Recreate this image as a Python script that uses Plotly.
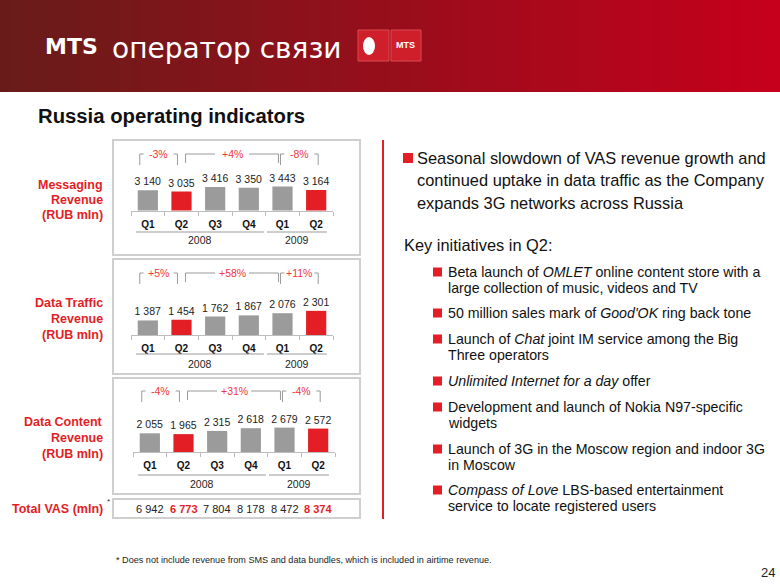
import plotly.graph_objects as go

W, H = 780, 586

# ---------------- data ----------------
quarters = ["Q1", "Q2", "Q3", "Q4", "Q1", "Q2"]
years = ["2008", "2009"]
messaging = [3140, 3035, 3416, 3350, 3443, 3164]
data_traffic = [1387, 1454, 1762, 1867, 2076, 2301]
data_content = [2055, 1965, 2315, 2618, 2679, 2572]
total_vas = [6942, 6773, 7804, 8178, 8472, 8374]
msg_changes = ["-3%", "+4%", "-8%"]
traffic_changes = ["+5%", "+58%", "+11%"]
content_changes = ["-4%", "+31%", "-4%"]
panel_titles = [["Messaging", "Revenue", "(RUB mln)"],
                ["Data Traffic", "Revenue", "(RUB mln)"],
                ["Data Content", "Revenue", "(RUB mln)"]]
highlight_quarter = "Q2"

main_bullet = ["Seasonal slowdown of VAS revenue growth and",
               "continued uptake in data traffic as the Company",
               "expands 3G networks across Russia"]
key_title = "Key initiatives in Q2:"
initiatives = [
    ["Beta launch of <i>OMLET</i> online content store with a",
     "large collection of music, videos and TV"],
    ["50 million sales mark of <i>Good'OK</i> ring back tone"],
    ["Launch of <i>Chat</i> joint IM service among the Big",
     "Three operators"],
    ["<i>Unlimited Internet for a day</i> offer"],
    ["Development and launch of Nokia N97-specific",
     "widgets"],
    ["Launch of 3G in the Moscow region and indoor 3G",
     "in Moscow"],
    ["<i>Compass of Love</i> LBS-based entertainment",
     "service to locate registered users"],
]
footnote = "* Does not include revenue from SMS and data bundles, which is included in airtime revenue."
page_number = "24"

# ---------------- helpers ----------------
def X(px):
    return px / W

def Y(py):
    return 1 - py / H

def fmt(v):
    return f"{v:,}".replace(",", " ")

RED = "#e31e25"
PCT_RED = "#f0363c"
GRAY_BAR = "#9b9b9b"
LINE_GRAY = "#9a9a9a"
BOX_GRAY = "#cfcfcf"
FONT = "Liberation Sans, Arial, sans-serif"
WIDE = "DejaVu Sans, Verdana, sans-serif"

fig = go.Figure()
shapes = []
ann = []

# ---------------- header ----------------
c0 = (104, 28, 26)
c1 = (198, 0, 28)
n = 78
for i in range(n):
    t = i / (n - 1)
    col = tuple(int(round(c0[j] + (c1[j] - c0[j]) * t)) for j in range(3))
    shapes.append(dict(type="rect", xref="paper", yref="paper",
                       x0=X(i * W / n), x1=X((i + 1) * W / n + 1), y0=Y(92), y1=Y(0),
                       line=dict(width=0), fillcolor=f"rgb{col}", layer="below"))
ann.append(dict(x=X(43), y=Y(46), xref="paper", yref="paper", xanchor="left", yanchor="middle",
                text="<b>MTS</b>", showarrow=False,
                font=dict(family=WIDE, size=22, color="white")))
ann.append(dict(x=X(110), y=Y(48), xref="paper", yref="paper", xanchor="left", yanchor="middle",
                text="оператор связи", showarrow=False,
                font=dict(family=WIDE, size=28, color="white")))
# logo
shapes.append(dict(type="rect", xref="paper", yref="paper", x0=X(358), x1=X(389), y0=Y(61), y1=Y(30),
                   fillcolor="#cf1f2a", line=dict(color="#d84a52", width=1)))
shapes.append(dict(type="rect", xref="paper", yref="paper", x0=X(391), x1=X(421), y0=Y(61), y1=Y(30),
                   fillcolor="#cf1f2a", line=dict(color="#d84a52", width=1)))
shapes.append(dict(type="circle", xref="paper", yref="paper", x0=X(363), x1=X(375), y0=Y(55), y1=Y(37),
                   fillcolor="white", line=dict(width=0)))
ann.append(dict(x=X(405), y=Y(45), xref="paper", yref="paper", xanchor="center", yanchor="middle",
                text="<b>MTS</b>", showarrow=False, font=dict(family=FONT, size=9, color="white")))

# title
ann.append(dict(x=X(36), y=Y(116), xref="paper", yref="paper", xanchor="left", yanchor="middle",
                text="<b>Russia operating indicators</b>", showarrow=False,
                font=dict(family=FONT, size=20.3, color="#111111")))

# ---------------- bar panels ----------------
panels = [
    dict(values=messaging, changes=msg_changes, titles=panel_titles[0],
         box=(113, 140, 360, 255), ax=(131, 333), base=210.5, vmin=1490, k=0.01225,
         br_y=154, yl_y=232, yr_y=239.5, t_y=[185, 200, 215]),
    dict(values=data_traffic, changes=traffic_changes, titles=panel_titles[1],
         box=(113, 259, 360, 374), ax=(131, 333), base=335, vmin=0, k=0.0105,
         br_y=273, yl_y=354, yr_y=364, t_y=[303, 319, 335]),
    dict(values=data_content, changes=content_changes, titles=panel_titles[2],
         box=(113, 378, 360, 494), ax=(133, 335), base=452, vmin=0, k=0.0091,
         br_y=391, yl_y=475, yr_y=484, t_y=[422, 438, 454]),
]

xs = list(range(len(quarters)))
colors = [RED if q == highlight_quarter and i in (1, 5) else GRAY_BAR for i, q in enumerate(quarters)]

for p_i, p in enumerate(panels):
    sfx = "" if p_i == 0 else str(p_i + 1)
    xa, ya = "x" + sfx, "y" + sfx
    fig.add_trace(go.Bar(x=xs, y=p["values"], xaxis=xa, yaxis=ya, width=0.6,
                         marker=dict(color=colors, line=dict(width=0)),
                         text=[fmt(v) for v in p["values"]], textposition="outside",
                         constraintext="none",
                         textfont=dict(family=FONT, size=10.5, color="#222222"),
                         cliponaxis=False, showlegend=False, hoverinfo="skip"))
    top_px = p["base"] - 60
    dom_y = [Y(p["base"]), Y(top_px)]
    yr = [p["vmin"], p["vmin"] + 60 / p["k"]]
    fig.layout["xaxis" + sfx] = dict(domain=[X(p["ax"][0]), X(p["ax"][1])], anchor=ya,
                                    range=[-0.5, 5.5], tickvals=xs,
                                    ticktext=[f"<b>{q}</b>" for q in quarters],
                                    ticks="", showline=True, linecolor="#bdbdbd", linewidth=1,
                                    showgrid=False, zeroline=False, fixedrange=True,
                                    ticklabelstandoff=4,
                                    tickfont=dict(family=FONT, size=10, color="#111111"),
                                    minor=dict(tick0=-0.5, dtick=1, ticks="outside", ticklen=4,
                                               tickcolor="#bdbdbd", tickwidth=1, showgrid=False))
    fig.layout["yaxis" + sfx] = dict(domain=dom_y, anchor=xa, range=yr, visible=False,
                                    showgrid=False, zeroline=False, fixedrange=True)

    # panel box
    bx0, by0, bx1, by1 = p["box"]
    shapes.append(dict(type="rect", xref="paper", yref="paper", x0=X(bx0), x1=X(bx1),
                       y0=Y(by1), y1=Y(by0), line=dict(color=BOX_GRAY, width=2)))
    unit = (p["ax"][1] - p["ax"][0]) / 6.0
    # year lines and labels
    for (a, b), yr_lbl in zip([(-0.35, 3.45), (3.54, 5.32)], years):
        shapes.append(dict(type="line", xref=xa, yref="paper", x0=a, x1=b,
                           y0=Y(p["yl_y"]), y1=Y(p["yl_y"]), line=dict(color=LINE_GRAY, width=1)))
        ann.append(dict(x=(a + b) / 2, y=Y(p["yr_y"]), xref=xa, yref="paper",
                        xanchor="center", yanchor="middle", text=yr_lbl, showarrow=False,
                        font=dict(family=FONT, size=10.5, color="#222222")))
    # brackets
    spans = [(-0.24, 0.88), (1.12, 3.88), (3.94, 5.06)]
    gaps = [15, 17, 15]
    vlen = [11, 9, 11]
    ty = p["br_y"]
    for (a, b), g, vl, lbl in zip(spans, gaps, vlen, p["changes"]):
        mid = (a + b) / 2
        gu = g / unit
        line = dict(color=LINE_GRAY, width=1)
        shapes.append(dict(type="line", xref=xa, yref="paper", x0=a, x1=a, y0=Y(ty), y1=Y(ty + vl), line=line))
        shapes.append(dict(type="line", xref=xa, yref="paper", x0=b, x1=b, y0=Y(ty), y1=Y(ty + vl), line=line))
        shapes.append(dict(type="line", xref=xa, yref="paper", x0=a, x1=mid - gu, y0=Y(ty), y1=Y(ty), line=line))
        shapes.append(dict(type="line", xref=xa, yref="paper", x0=mid + gu, x1=b, y0=Y(ty), y1=Y(ty), line=line))
        ann.append(dict(x=mid, y=Y(ty), xref=xa, yref="paper", xanchor="center", yanchor="middle",
                        text=lbl, showarrow=False, font=dict(family=FONT, size=10.5, color=PCT_RED)))
    # panel titles
    for line_txt, yy in zip(p["titles"], p["t_y"]):
        ann.append(dict(x=X(105), y=Y(yy), xref="paper", yref="paper", xanchor="right", yanchor="middle",
                        text=f"<b>{line_txt}</b>", showarrow=False,
                        font=dict(family=FONT, size=12.5, color=RED)))

# ---------------- total VAS row ----------------
shapes.append(dict(type="rect", xref="paper", yref="paper", x0=X(113), x1=X(360), y0=Y(518), y1=Y(499),
                   line=dict(color=BOX_GRAY, width=2)))
ann.append(dict(x=X(105), y=Y(509), xref="paper", yref="paper", xanchor="right", yanchor="middle",
                text="<b>Total VAS (mln)</b>", showarrow=False, font=dict(family=FONT, size=12.5, color=RED)))
ann.append(dict(x=X(108), y=Y(501), xref="paper", yref="paper", xanchor="center", yanchor="middle",
                text="*", showarrow=False, font=dict(family=FONT, size=8, color="#333333")))
for i, v in enumerate(total_vas):
    hl = quarters[i] == highlight_quarter and i in (1, 5)
    ann.append(dict(x=i, y=Y(509), xref="x3", yref="paper", xanchor="center", yanchor="middle",
                    text=f"<b>{fmt(v)}</b>" if hl else fmt(v), showarrow=False,
                    font=dict(family=FONT, size=11, color=RED if hl else "#222222")))

# ---------------- right-hand text ----------------
shapes.append(dict(type="line", xref="paper", yref="paper", x0=X(383), x1=X(383), y0=Y(140), y1=Y(519),
                   line=dict(color=RED, width=2)))
shapes.append(dict(type="rect", xref="paper", yref="paper", x0=X(403), x1=X(413), y0=Y(163), y1=Y(153),
                   fillcolor=RED, line=dict(width=0)))
for j, t in enumerate(main_bullet):
    ann.append(dict(x=X(415), y=Y(158 + j * 22.5), xref="paper", yref="paper", xanchor="left",
                    yanchor="middle", text=t, showarrow=False,
                    font=dict(family=FONT, size=16.4, color="#111111")))
ann.append(dict(x=X(402), y=Y(245), xref="paper", yref="paper", xanchor="left", yanchor="middle",
                text=key_title, showarrow=False, font=dict(family=FONT, size=16.4, color="#111111")))
item_y = [272, 313, 339, 381, 407, 449, 490]
for yy, lines in zip(item_y, initiatives):
    shapes.append(dict(type="rect", xref="paper", yref="paper", x0=X(433), x1=X(442),
                       y0=Y(yy + 4.5), y1=Y(yy - 4.5), fillcolor=RED, line=dict(width=0)))
    for j, t in enumerate(lines):
        ann.append(dict(x=X(446), y=Y(yy + j * 15.5), xref="paper", yref="paper", xanchor="left",
                        yanchor="middle", text=t, showarrow=False,
                        font=dict(family=FONT, size=14.2, color="#111111")))

# footnote and page number
ann.append(dict(x=X(114), y=Y(560), xref="paper", yref="paper", xanchor="left", yanchor="middle",
                text=footnote, showarrow=False, font=dict(family=FONT, size=9.1, color="#222222")))
ann.append(dict(x=X(777), y=Y(572), xref="paper", yref="paper", xanchor="right", yanchor="middle",
                text=page_number, showarrow=False, font=dict(family=FONT, size=13, color="#222222")))

fig.update_layout(width=W, height=H, margin=dict(l=0, r=0, t=0, b=0),
                  paper_bgcolor="white", plot_bgcolor="rgba(0,0,0,0)",
                  shapes=shapes, annotations=ann, bargap=0.4,
                  font=dict(family=FONT))

fig.write_html("out.html", config={"displayModeBar": False},
               post_script="document.body.style.margin='0px';document.body.style.padding='0px';")
